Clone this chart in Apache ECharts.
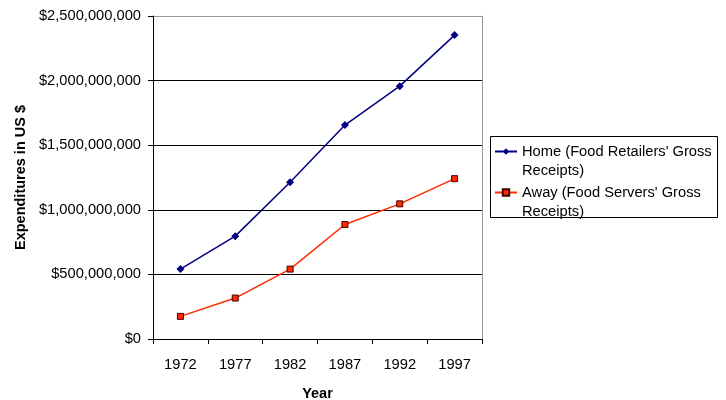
<!DOCTYPE html>
<html>
<head>
<meta charset="utf-8">
<script src="https://cdn.jsdelivr.net/npm/echarts@6/dist/echarts.min.js"></script>
<style>html,body{margin:0;padding:0;background:#fff}#c{width:726px;height:400px}</style>
</head>
<body>
<div id="c"></div>
<script>
var years = ['1972', '1977', '1982', '1987', '1992', '1997'];
var homeValues = [541000000, 796000000, 1213000000, 1656000000, 1957000000, 2352000000];
var awayValues = [175000000, 317000000, 541000000, 886000000, 1046000000, 1241000000];
var seriesNames = ["Home (Food Retailers' Gross Receipts)", "Away (Food Servers' Gross Receipts)"];
var legendLines = {};
legendLines[seriesNames[0]] = ["Home (Food Retailers' Gross", "Receipts)"];
legendLines[seriesNames[1]] = ["Away (Food Servers' Gross", "Receipts)"];
var yTicks = [0, 500000000, 1000000000, 1500000000, 2000000000, 2500000000];

var FONT = 'Liberation Sans, Arial, sans-serif';
var chart = echarts.init(document.getElementById('c'));
chart.setOption({
  animation: false,
  backgroundColor: '#fff',
  textStyle: {fontFamily: FONT},
  grid: {left: 153, right: 244, top: 16, bottom: 61, outerBoundsMode: 'none', containLabel: false},
  graphic: [{
    type: 'rect', z: 0,
    shape: {x: 490.5, y: 136.5, width: 227, height: 81},
    style: {fill: '#fff', stroke: '#000', lineWidth: 1}
  }],
  legend: {
    orient: 'vertical',
    left: 494, top: 123,
    padding: 0,
    itemGap: -16,
    itemWidth: 22, itemHeight: 8,
    z: 10,
    textStyle: {fontFamily: FONT, fontSize: 14.7, color: '#000', lineHeight: 19},
    formatter: function (name) { return ' \n' + legendLines[name].join('\n'); },
    data: seriesNames
  },
  xAxis: {
    type: 'category',
    data: years,
    boundaryGap: true,
    name: 'Year',
    nameLocation: 'middle',
    nameGap: 47,
    nameTextStyle: {fontFamily: FONT, fontSize: 14.5, fontWeight: 'bold', color: '#000'},
    axisLine: {lineStyle: {color: '#000', width: 1}},
    axisTick: {show: true, length: 5, inside: false, lineStyle: {color: '#000'}},
    axisLabel: {fontFamily: FONT, fontSize: 14.7, color: '#000', margin: 18},
    splitLine: {show: false}
  },
  yAxis: [{
    type: 'value',
    min: yTicks[0], max: yTicks[yTicks.length - 1], interval: yTicks[1] - yTicks[0],
    name: 'Expenditures in US $',
    nameLocation: 'middle',
    nameGap: 125,
    nameRotate: 90,
    nameTextStyle: {fontFamily: FONT, fontSize: 14.5, fontWeight: 'bold', color: '#000'},
    axisLine: {show: true, lineStyle: {color: '#000', width: 1}},
    axisTick: {show: true, length: 5, lineStyle: {color: '#000'}},
    axisLabel: {fontFamily: FONT, fontSize: 14.7, color: '#000', margin: 12,
      formatter: function (v) { return '$' + v.toLocaleString('en-US'); }},
    splitLine: {show: true, lineStyle: {color: ['#000', '#000', '#000', '#000', '#000', '#999'], width: 1}}
  }, {
    type: 'value',
    position: 'right',
    min: yTicks[0], max: yTicks[yTicks.length - 1], interval: yTicks[1] - yTicks[0],
    axisLine: {show: true, lineStyle: {color: '#999', width: 1}},
    axisTick: {show: false}, axisLabel: {show: false}, splitLine: {show: false}
  }],
  series: [{
    name: seriesNames[0],
    type: 'line',
    data: homeValues,
    symbol: 'diamond', symbolSize: 8,
    lineStyle: {color: '#000080', width: 1.5},
    itemStyle: {color: '#000080'}
  }, {
    name: seriesNames[1],
    type: 'line',
    data: awayValues,
    symbol: 'rect', symbolSize: 6,
    lineStyle: {color: '#ff2a00', width: 1.5},
    itemStyle: {color: '#ff2a00', borderColor: '#400000', borderWidth: 1}
  }]
});
</script>
</body>
</html>
